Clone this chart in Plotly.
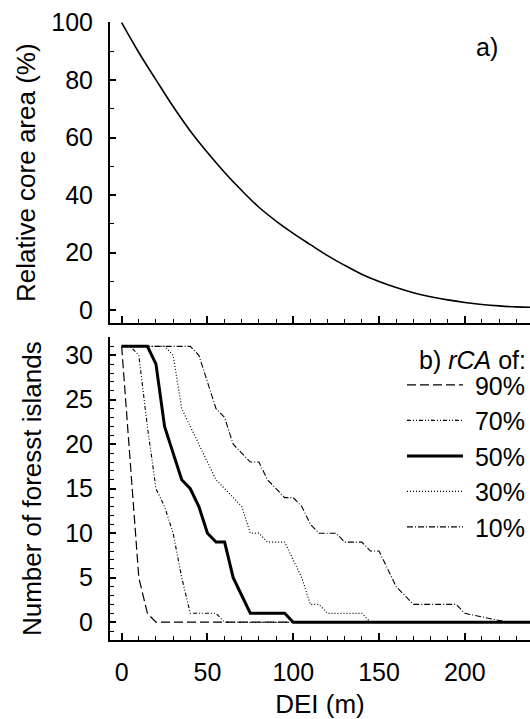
import plotly.graph_objects as go

# ---------------- data ----------------
dei_top = [0, 10, 20, 30, 40, 50, 60, 70, 80, 90, 100, 110, 120,
           130, 140, 150, 160, 170, 180, 190, 200, 210, 220, 230, 240]
rel_core_area = [100, 89.6, 80.1, 70.8, 62.3, 54.8, 47.9, 41.6, 35.8, 31.0, 26.7, 22.8, 19.0,
                 15.6, 12.5, 10.0, 7.9, 6.1, 4.7, 3.6, 2.7, 2.0, 1.5, 1.15, 1.0]

dei = list(range(0, 245, 5))  # 0..240 step 5 (49 values)
islands_90 = [31, 18, 5, 1, 0] + [0] * 44
islands_70 = [31, 31, 30, 22, 15, 13, 10, 5, 1, 1, 1, 1, 0] + [0] * 36
islands_50 = [31, 31, 31, 31, 29, 22, 19, 16, 15, 13, 10, 9, 9, 5, 3, 1, 1, 1, 1, 1, 0] + [0] * 28
islands_30 = [31, 31, 31, 31, 31, 31, 30, 24, 22, 20, 18, 16, 15, 14, 13, 10, 10, 9, 9, 9,
              7, 5, 2, 2, 1, 1, 1, 1, 1, 0] + [0] * 19
islands_10 = [31, 31, 31, 31, 31, 31, 31, 31, 31, 30, 27, 24, 23, 20, 19, 18, 18, 16, 15, 14,
              14, 13, 11, 10, 10, 10, 9, 9, 9, 8, 8, 6, 4, 3, 2, 2, 2, 2, 2, 2,
              1, 0.8, 0.6, 0.4, 0.2, 0, 0, 0, 0]

series_names = ["90%", "70%", "50%", "30%", "10%"]
series_values = [islands_90, islands_70, islands_50, islands_30, islands_10]
x_ticks = [0, 50, 100, 150, 200]
x_tick_labels = ["0", "50", "100", "150", "200"]

# ---------------- styles ----------------
FONT = "Liberation Sans, Arial, sans-serif"
TICK_SIZE = 25
TITLE_SIZE = 26
styles = {
    "90%": dict(width=1.2, dash="9px,4px"),
    "70%": dict(width=1.1, dash="4px,2px,1px,2px,1px,2px"),
    "50%": dict(width=3.0, dash="solid"),
    "30%": dict(width=1.2, dash="1px,2px"),
    "10%": dict(width=1.1, dash="6px,2px,1px,2px"),
}

fig = go.Figure()

fig.add_trace(go.Scatter(x=dei_top, y=rel_core_area, mode="lines",
                         line=dict(color="black", width=1.6, shape="spline"),
                         xaxis="x2", yaxis="y2", showlegend=False))

for name, vals in zip(series_names, series_values):
    st = styles[name]
    fig.add_trace(go.Scatter(x=dei, y=vals, mode="lines", name="\u00a0" + name,
                             line=dict(color="black", width=st["width"], dash=st["dash"]),
                             xaxis="x", yaxis="y"))

H = 719
top_px, bot_px = 21.7, 640.0
ph = bot_px - top_px
def py(p):
    return (bot_px - p) / ph

common_axis = dict(showline=True, linecolor="black", linewidth=2, ticks="inside",
                   tickcolor="black", tickwidth=1.5, showgrid=False, zeroline=False,
                   mirror=False, tickfont=dict(family=FONT, size=TICK_SIZE, color="black"))

fig.update_layout(
    width=530, height=H,
    margin=dict(l=110, r=0, t=top_px, b=H - bot_px, pad=0),
    paper_bgcolor="white", plot_bgcolor="white",
    font=dict(family=FONT, size=TICK_SIZE, color="black"),
    xaxis=dict(domain=[0, 1], anchor="y", range=[-6.8, 238],
               tickvals=x_ticks, ticktext=x_tick_labels, ticklen=7,
               ticklabelstandoff=9,
               minor=dict(dtick=10, tick0=0, ticklen=4, tickcolor="black", tickwidth=1.2, ticks="inside"),
               title=dict(text="DEI (m)", font=dict(family=FONT, size=TITLE_SIZE), standoff=12),
               **common_axis),
    yaxis=dict(domain=[0, py(337.3)], anchor="x", range=[-2, 32],
               tickvals=[0, 5, 10, 15, 20, 25, 30], ticklen=6, ticklabelstandoff=10,
               minor=dict(dtick=1, tick0=0, ticklen=3.5, tickcolor="black", tickwidth=1.2, ticks="inside"),
               title=dict(text="Number of foresst islands", font=dict(family=FONT, size=TITLE_SIZE), standoff=16),
               **common_axis),
    xaxis2=dict(domain=[0, 1], anchor="y2", matches="x", range=[-6.8, 238],
                tickvals=x_ticks, showticklabels=False, ticklen=7,
                minor=dict(dtick=10, tick0=0, ticklen=4, tickcolor="black", tickwidth=1.2, ticks="inside"),
                **common_axis),
    yaxis2=dict(domain=[py(323.3), 1], anchor="x2", range=[-4.6, 100.2],
                tickvals=[0, 20, 40, 60, 80, 100], ticklen=6, ticklabelstandoff=10,
                minor=dict(dtick=10, tick0=0, ticklen=3.5, tickcolor="black", tickwidth=1.2, ticks="inside"),
                title=dict(text="Relative core area (%)", font=dict(family=FONT, size=TITLE_SIZE), standoff=8),
                **common_axis),
    legend=dict(x=1.0, xanchor="right", y=py(362), yanchor="top",
                bgcolor="rgba(0,0,0,0)", borderwidth=0,
                font=dict(family=FONT, size=25, color="black"),
                itemwidth=56, tracegroupgap=0),
    annotations=[
        dict(text="a)", xref="paper", yref="paper", x=(500 - 110) / 420, y=py(47),
             xanchor="right", yanchor="middle", showarrow=False,
             font=dict(family=FONT, size=25, color="black")),
        dict(text="b) <i>rCA</i> of:", xref="paper", yref="paper", x=(528 - 110) / 420, y=py(360),
             xanchor="right", yanchor="middle", showarrow=False,
             font=dict(family=FONT, size=25, color="black")),
    ],
)

fig.write_html("out.html")
